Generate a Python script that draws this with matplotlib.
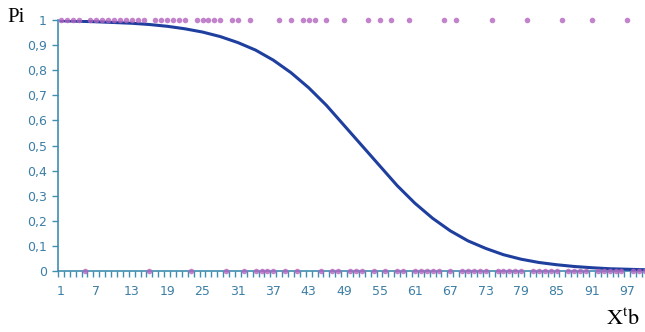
import numpy as np
import matplotlib.pyplot as plt

plt.rcParams["mathtext.fontset"] = "stix"

# fitted probability curve, every 3 categories
curve_x = [1, 4, 7, 10, 13, 16, 19, 22, 25, 28, 31, 34, 37, 40, 43, 46, 49,
           52, 55, 58, 61, 64, 67, 70, 73, 76, 79, 82, 85, 88, 91, 94, 97, 100]
curve_p = [0.997, 0.995, 0.993, 0.99, 0.987, 0.982, 0.975, 0.965, 0.952, 0.934,
           0.91, 0.88, 0.84, 0.79, 0.73, 0.66, 0.58, 0.50, 0.42, 0.34, 0.27,
           0.21, 0.16, 0.12, 0.09, 0.065, 0.047, 0.034, 0.025, 0.018, 0.013,
           0.009, 0.007, 0.005]

# observations with y = 1 (the rest of 1..100 are y = 0)
ones = [1, 2, 3, 4, 6, 7, 8, 9, 10, 11, 12, 13, 14, 15, 17, 18, 19, 20, 21, 22,
        24, 25, 26, 27, 28, 30, 31, 33, 38, 40, 42, 43, 44, 46, 49, 53, 55, 57,
        60, 66, 68, 74, 80, 86, 91, 97]
zeros = [k for k in range(1, 101) if k not in ones]

xlabels = list(range(1, 101, 6))
ylabels = [f"{v:.1f}".replace(".", ",") if v not in (0, 1) else str(int(v))
           for v in np.arange(0, 1.01, 0.1)]

teal = "#3f8fb0"
lab_col = "#3d7ea6"
dot_col = "#b463c0"

fig = plt.figure(figsize=(6.45, 3.32), dpi=100)
ax = fig.add_axes([58 / 645, 61 / 332, 587 / 645, 251 / 332])

ax.plot(ones, [1] * len(ones), "o", color=dot_col, ms=4, mec="none",
        alpha=0.8, clip_on=False, zorder=4)
ax.plot(zeros, [0] * len(zeros), "o", color=dot_col, ms=4, mec="none",
        alpha=0.8, clip_on=False, zorder=4)
ax.plot(curve_x, curve_p, color="#1f3f9f", lw=2.2, zorder=3)

ax.set_xlim(0.5, 100)
ax.set_ylim(0, 1)

for s in ["top", "right"]:
    ax.spines[s].set_visible(False)
ax.spines["left"].set_color(teal)
ax.spines["bottom"].set_color(teal)
ax.spines["left"].set_linewidth(1.2)
ax.spines["bottom"].set_linewidth(1.2)

ax.set_xticks(xlabels)
ax.set_xticklabels([str(v) for v in xlabels])
ax.set_xticks(np.arange(0.5, 100.5, 1), minor=True)
ax.tick_params(axis="x", which="major", length=0, pad=10, labelsize=9,
               labelcolor=lab_col)
ax.tick_params(axis="x", which="minor", length=4, color=teal, width=1)

ax.set_yticks(np.arange(0, 1.01, 0.1))
ax.set_yticklabels(ylabels)
ax.tick_params(axis="y", length=4, color=teal, width=1, pad=4, labelsize=9,
               labelcolor=lab_col)

fig.text(7 / 645, 1 - 18 / 332, "Pi", family="Liberation Serif", fontsize=15,
         va="center", ha="left")
fig.text(640 / 645, 1 - 318 / 332, r"$\mathrm{X^{t}b}$", fontsize=16,
         va="center", ha="right")

fig.savefig("out.png", dpi=100)
